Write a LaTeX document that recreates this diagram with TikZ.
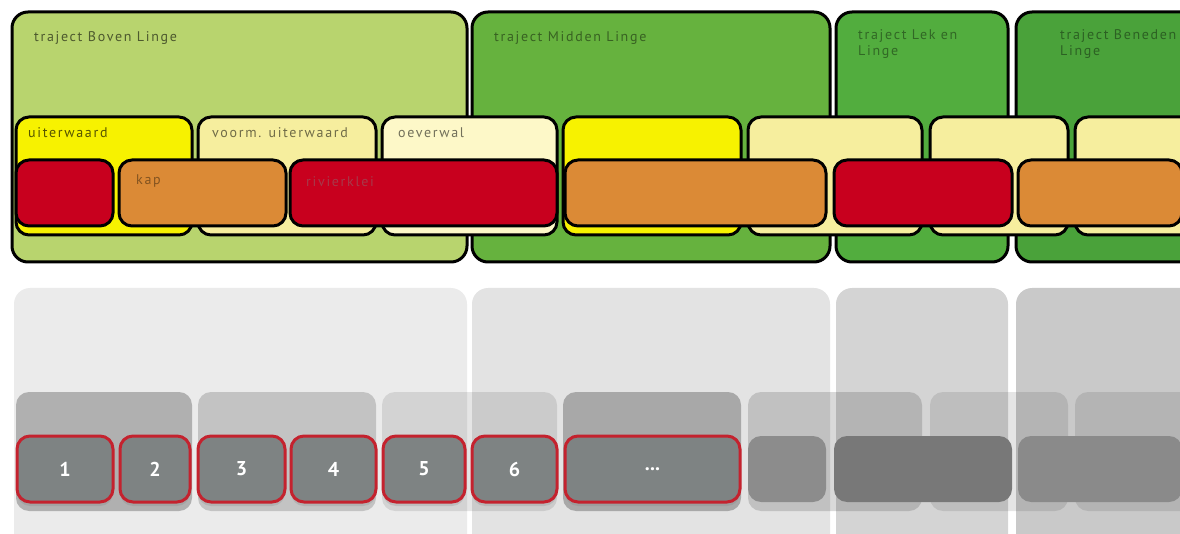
\documentclass[tikz,border=0pt]{standalone}
\usepackage{fontspec}
\setmainfont{PT Sans}
\newfontfamily\lblfont[LetterSpace=12]{PT Sans}
\usetikzlibrary{shadows}
\definecolor{gA}{HTML}{B8D46E}
\definecolor{gB}{HTML}{66B23E}
\definecolor{gC}{HTML}{52AD3E}
\definecolor{gD}{HTML}{4AA23A}
\definecolor{yS}{HTML}{F7F200}
\definecolor{yP}{HTML}{F6EE9E}
\definecolor{yL}{HTML}{FDF8C8}
\definecolor{rR}{HTML}{C8001E}
\definecolor{oO}{HTML}{DB8A36}
\definecolor{rB}{HTML}{C4222E}
\definecolor{nG}{HTML}{7E8383}
\newcommand{\bx}[7]{\node[#6, anchor=north west, minimum width={#4-#2}, minimum height={#5-#3}] (#1) at (#2,#3) {#7};}
\tikzset{
  base/.style={rectangle, inner sep=0pt, outer sep=0pt},
  big/.style={base, draw=black, line width=3pt, rounded corners=16pt, fill=#1},
  mid/.style={base, draw=black, line width=3pt, rounded corners=13pt, fill=#1},
  low/.style={base, draw=black, line width=3pt, rounded corners=13pt, fill=#1},
  ghostbig/.style={base, rounded corners=16pt, fill=black, fill opacity=#1},
  ghostmid/.style={base, rounded corners=13pt, fill=black, fill opacity=#1},
  numbox/.style={base, draw=rB, line width=3pt, rounded corners=13pt, fill=nG,
     drop shadow={opacity=0.25, shadow xshift=0pt, shadow yshift=-4pt},
     text=white, font=\fontsize{20}{21}\selectfont\bfseries},
  greybox/.style={base, rounded corners=13pt, fill=#1},
  lbl/.style={anchor=base west, inner sep=0pt, font=\lblfont\fontsize{14}{16}\selectfont, text=#1},
}
\begin{document}
\begin{tikzpicture}[x=1pt,y=-1pt]
\useasboundingbox (0,0) rectangle (1180,534);
\clip (0,0) rectangle (1180,534);
\fill[white] (0,0) rectangle (1180,534);
% ---------- top: trajects ----------
\bx{tA}{12}{12}{467}{262}{big=gA}{}
\bx{tB}{472}{12}{830}{262}{big=gB}{}
\bx{tC}{836}{12}{1008}{262}{big=gC}{}
\bx{tD}{1016}{12}{1200}{262}{big=gD}{}
\node[lbl=black!40!gA!70!black] (ltA) at (34,42) {traject Boven Linge};
\node[lbl=black!45!gB] (ltB) at (494,42) {traject Midden Linge};
\node[lbl=black!40!gC, align=left, anchor=north west] (ltC) at (858,29) {traject Lek en\\Linge};
\node[lbl=black!40!gD, align=left, anchor=north west] (ltD) at (1060,29) {traject Beneden\\Linge};
% ---------- middle: landscape units ----------
\bx{m1}{16}{117}{192}{235}{mid=yS}{}
\bx{m2}{198}{117}{376}{235}{mid=yP}{}
\bx{m3}{382}{117}{557}{235}{mid=yL}{}
\bx{m4}{563}{117}{741}{235}{mid=yS}{}
\bx{m5}{748}{117}{922}{235}{mid=yP}{}
\bx{m6}{930}{117}{1068}{235}{mid=yP}{}
\bx{m7}{1075}{117}{1200}{235}{mid=yP}{}
\node[lbl=black!65!yS] (lm1) at (28,138) {uiterwaard};
\node[lbl=black!55!yP] (lm2) at (212,138) {voorm. uiterwaard};
\node[lbl=black!55!yL] (lm3) at (398,138) {oeverwal};
% ---------- lower: sections ----------
\bx{s1}{16}{160}{113}{226}{low=rR}{}
\bx{s2}{119}{160}{286}{226}{low=oO}{}
\bx{s3}{290}{160}{557}{226}{low=rR}{}
\bx{s4}{565}{160}{826}{226}{low=oO}{}
\bx{s5}{834}{160}{1012}{226}{low=rR}{}
\bx{s6}{1018}{160}{1182}{226}{low=oO}{}
\node[lbl=oO!60!black] (ls2) at (136,185) {kap};
\node[lbl=rR!55!gray] (ls3) at (306,187) {rivierklei};
% ---------- ghost copy ----------
\bx{g1}{14}{288}{467}{560}{ghostbig=0.08}{}
\bx{g2}{472}{288}{830}{560}{ghostbig=0.11}{}
\bx{g3}{836}{288}{1008}{560}{ghostbig=0.17}{}
\bx{g4}{1016}{288}{1200}{560}{ghostbig=0.21}{}
\bx{h1}{16}{392}{192}{511}{ghostmid=0.25}{}
\bx{h2}{198}{392}{376}{511}{ghostmid=0.17}{}
\bx{h3}{382}{392}{557}{511}{ghostmid=0.10}{}
\bx{h4}{563}{392}{741}{511}{ghostmid=0.26}{}
\bx{h5}{748}{392}{922}{511}{ghostmid=0.15}{}
\bx{h6}{930}{392}{1068}{511}{ghostmid=0.10}{}
\bx{h7}{1075}{392}{1200}{511}{ghostmid=0.10}{}
\bx{n1}{17}{436}{113}{502}{numbox}{1}
\bx{n2}{120}{436}{190}{502}{numbox}{2}
\bx{n3}{198}{436}{285}{502}{numbox}{3}
\bx{n4}{291}{436}{376}{502}{numbox}{4}
\bx{n5}{383}{436}{465}{502}{numbox}{5}
\bx{n6}{472}{436}{557}{502}{numbox}{6}
\bx{n7}{565}{436}{740}{502}{numbox}{...}
\bx{q1}{748}{436}{826}{502}{greybox=black!45}{}
\bx{q2}{834}{436}{1012}{502}{greybox=black!53}{}
\bx{q3}{1018}{436}{1182}{502}{greybox=black!46}{}
\end{tikzpicture}
\end{document}
